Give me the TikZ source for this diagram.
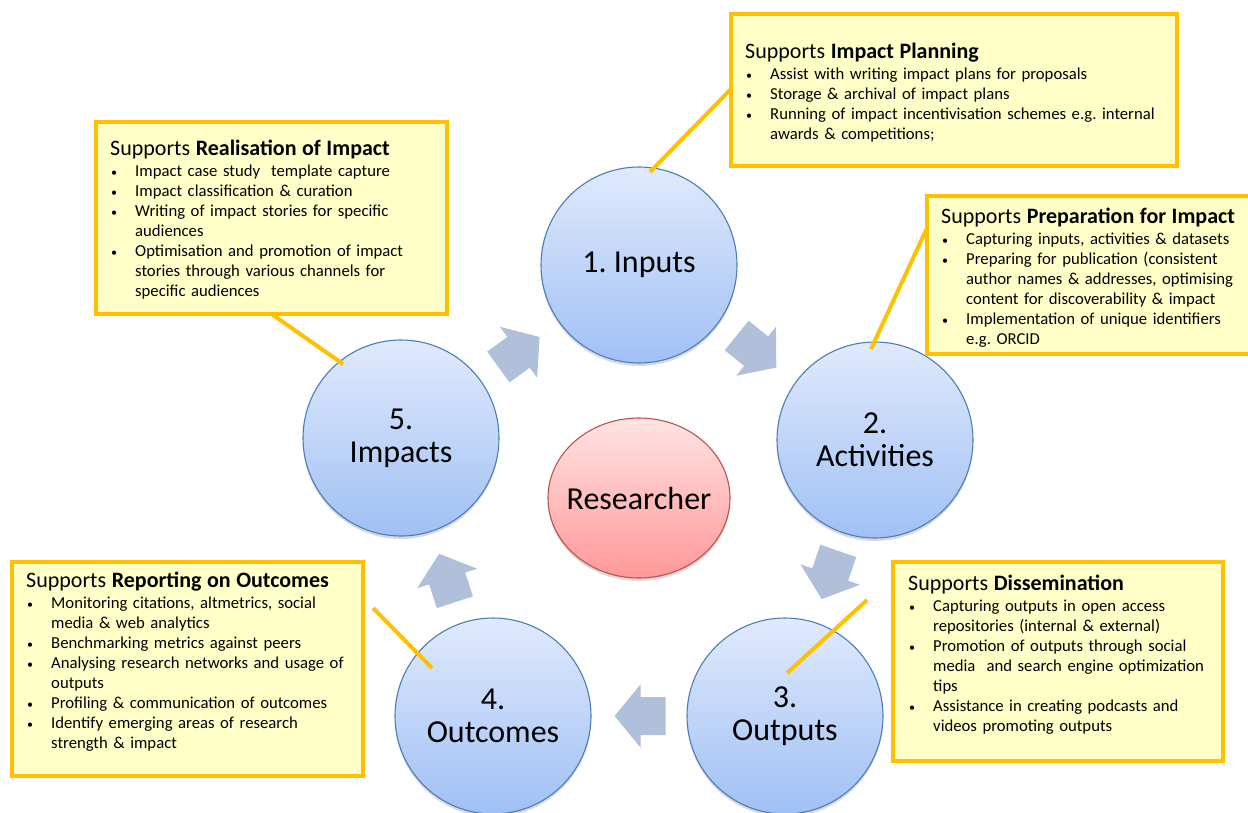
\documentclass[tikz,border=0pt]{standalone}
\usepackage{fontspec}
\setmainfont{Carlito}
\usetikzlibrary{shapes.geometric,shadows}
\frenchspacing
\definecolor{circtop}{RGB}{224,234,252}
\definecolor{circbot}{RGB}{160,192,245}
\definecolor{circline}{RGB}{74,126,187}
\definecolor{restop}{RGB}{255,228,228}
\definecolor{resbot}{RGB}{255,152,152}
\definecolor{resline}{RGB}{192,80,77}
\definecolor{arrowfill}{RGB}{176,192,219}
\definecolor{boxfill}{RGB}{255,255,200}
\definecolor{boxline}{RGB}{255,192,0}
\newcommand{\bitem}[1]{\par\hangindent=25pt\hangafter=1\noindent\makebox[25pt][l]{\hspace{1pt}{\fontsize{12}{12}\selectfont\raisebox{0.5pt}{\textbullet}}}#1}
\newcommand{\boxtitle}[1]{\noindent{\fontsize{22}{24}\selectfont Supports \textbf{#1}\par}\vspace{1.5pt}}
\tikzset{
  stage/.style={circle, minimum size=196pt, inner sep=0pt, draw=circline, line width=1.1pt,
    top color=circtop, bottom color=circbot,
    drop shadow={shadow xshift=0pt, shadow yshift=-3pt, opacity=0.15, fill=black},
    align=center, font=\fontsize{32}{33}\selectfont},
  hub/.style={ellipse, minimum width=182pt, minimum height=160pt, inner sep=-11pt, draw=resline, line width=1.1pt,
    top color=restop, bottom color=resbot,
    drop shadow={shadow xshift=0pt, shadow yshift=-3pt, opacity=0.15, fill=black},
    font=\fontsize{32}{33}\selectfont},
  callout/.style={rectangle, draw=boxline, line width=3.5pt, fill=boxfill, inner sep=0pt,
    drop shadow={shadow xshift=1.5pt, shadow yshift=-1.5pt, opacity=0.12, fill=black}},
  boxtext/.style={anchor=base west, inner sep=0pt, text width=430pt, align=left,
    font=\fontsize{16.7}{20}\selectfont\frenchspacing},
  link/.style={draw=boxline, line width=4pt},
  blockarrow/.pic={\fill[arrowfill] (-25.5,-19) -- (-0.5,-19) -- (-0.5,-31.5) -- (25.5,0)
     -- (-0.5,31.5) -- (-0.5,19) -- (-25.5,19) -- cycle;}
}
\begin{document}
\begin{tikzpicture}[x=1pt,y=-1pt]
\useasboundingbox (0,0) rectangle (1248,812);
\clip (0,0) rectangle (1248,812);
\fill[white] (0,0) rectangle (1248,812);

% block arrows
\path (519,352) pic[rotate=36] {blockarrow};
\path (756.5,351.5) pic[rotate=-39] {blockarrow};
\path (830,575) pic[rotate=-109] {blockarrow};
\path (640,716) pic[rotate=180] {blockarrow};
\path (447,578) pic[rotate=108] {blockarrow};

% stages
\node[stage] (c1) at (639,265) {1. Inputs};
\node[stage] (c2) at (875,440) {2.\\Activities};
\node[stage] (c3) at (785,716) {3.\\Outputs};
\node[stage] (c4) at (493,716) {4.\\Outcomes};
\node[stage] (c5) at (401,438) {5.\\Impacts};
\node[hub] (r) at (639,498) {Researcher};

% callout boxes
\node[callout, minimum width=446pt, minimum height=152pt] (b1) at (954,90) {};
\node[callout, minimum width=329pt, minimum height=158pt] (b2) at (1091.5,275) {};
\node[callout, minimum width=330pt, minimum height=199pt] (b3) at (1058,661.5) {};
\node[callout, minimum width=351pt, minimum height=214pt] (b4) at (187.5,669) {};
\node[callout, minimum width=351pt, minimum height=192pt] (b5) at (271.5,218) {};

% connector end points
\coordinate (p1) at (650,172);  \coordinate (q1) at (730,90);
\coordinate (p2) at (871,349);  \coordinate (q2) at (927,228);
\coordinate (p3) at (787,673);  \coordinate (q3) at (867,600);
\coordinate (p4) at (432,668);  \coordinate (q4) at (373,608);
\coordinate (p5) at (343,364);  \coordinate (q5) at (273,315);
\draw[link] (p1) -- (q1);
\draw[link] (p2) -- (q2);
\draw[link] (p3) -- (q3);
\draw[link] (p4) -- (q4);
\draw[link] (p5) -- (q5);

% texts
\node[boxtext] (t1) at (745,58) {\boxtitle{Impact Planning}%
\bitem{Assist with writing impact plans for proposals}%
\bitem{Storage \& archival of impact plans}%
\bitem{Running of impact incentivisation schemes e.g. internal\newline awards \& competitions;}\par};

\node[boxtext] (t2) at (941,223) {\boxtitle{Preparation for Impact}%
\bitem{Capturing inputs, activities \& datasets}%
\bitem{Preparing for publication (consistent\newline author names \& addresses, optimising\newline content for discoverability \& impact}%
\bitem{Implementation of unique identifiers\newline e.g. ORCID}\par};

\node[boxtext] (t3) at (908,590) {\boxtitle{Dissemination}%
\bitem{Capturing outputs in open access\newline repositories (internal \& external)}%
\bitem{Promotion of outputs through social\newline media\ \ and search engine optimization\newline tips}%
\bitem{Assistance in creating podcasts and\newline videos promoting outputs}\par};

\node[boxtext] (t4) at (26,587) {\boxtitle{Reporting on Outcomes}%
\bitem{Monitoring citations, altmetrics, social\newline media \& web analytics}%
\bitem{Benchmarking metrics against peers}%
\bitem{Analysing research networks and usage of\newline outputs}%
\bitem{Profiling \& communication of outcomes}%
\bitem{Identify emerging areas of research\newline strength \& impact}\par};

\node[boxtext] (t5) at (110,155) {\boxtitle{Realisation of Impact}%
\bitem{Impact case study\ \ template capture}%
\bitem{Impact classification \& curation}%
\bitem{Writing of impact stories for specific\newline audiences}%
\bitem{Optimisation and promotion of impact\newline stories through various channels for\newline specific audiences}\par};
\end{tikzpicture}
\end{document}
